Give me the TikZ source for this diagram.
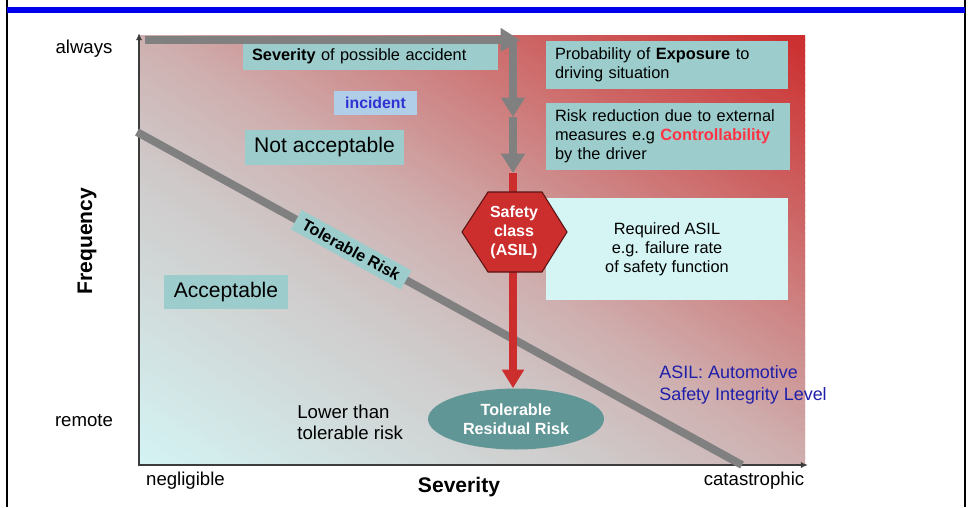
\documentclass[tikz,border=0pt]{standalone}
\usepackage{fontspec}
\setmainfont{Liberation Sans}
\usetikzlibrary{arrows.meta,shapes.geometric}

\definecolor{arrowgray}{RGB}{128,128,128}
\definecolor{riskred}{RGB}{204,45,45}
\definecolor{safecyan}{RGB}{212,244,244}
\definecolor{midgray}{RGB}{207,202,202}
\definecolor{midpink}{RGB}{207,176,176}
\definecolor{boxteal}{RGB}{156,205,204}
\definecolor{incifill}{RGB}{176,206,232}
\definecolor{incitext}{RGB}{50,50,210}
\definecolor{reqcyan}{RGB}{213,245,245}
\definecolor{residteal}{RGB}{97,150,150}
\definecolor{ctrlred}{RGB}{255,51,68}
\definecolor{notenavy}{RGB}{30,30,170}
\definecolor{barblue}{RGB}{0,0,238}
\definecolor{axisgray}{RGB}{60,60,60}
\definecolor{hexborder}{RGB}{90,20,20}

\begin{document}
\begin{tikzpicture}[x=0.02cm, y=-0.02cm,
    tealbox/.style = {fill=boxteal, inner ysep=0pt, font=\fontsize{9.3}{10.8}\selectfont},
    bigbox/.style = {fill=boxteal, inner sep=0pt, font=\fontsize{12}{14}\selectfont},
    tolbox/.style = {fill=boxteal, inner xsep=0.16cm, inner ysep=0pt, minimum height=0.44cm, font=\bfseries\fontsize{9.2}{10}\selectfont},
    ticklabel/.style = {font=\fontsize{10.6}{12.5}\selectfont},
    axislabel/.style = {font=\bfseries\fontsize{12}{14}\selectfont},
    grayarrow/.style = {draw=arrowgray, line width=4pt, -{Triangle[length=11pt,width=13pt]}},
    redarrow/.style = {draw=riskred, line width=4.3pt, -{Triangle[length=10.5pt,width=12pt]}},
    axisline/.style = {draw=axisgray, line width=1pt, -{Latex[length=4pt,width=3.5pt]}}]
    \useasboundingbox (0,0) rectangle (969,507);
    \draw[black, line width=1.4pt] (7,0) -- (7,507);
    \draw[black, line width=1.4pt] (965,0) -- (965,507);
    \fill[barblue] (7,7) rectangle (965,13);

    % risk field: cyan (bottom left) -> gray -> red (top right)
    \begin{scope}
      \clip (139,35) rectangle (805,465);
      \foreach \i in {0,...,149} {
        \pgfmathsetmacro{\ta}{\i/150}
        \pgfmathsetmacro{\tb}{(\i+1.6)/150}
        \pgfmathsetmacro{\tm}{(\i+0.5)/150}
        \pgfmathtruncatemacro{\seg}{\tm<0.35 ? 0 : (\tm<0.5 ? 1 : 2)}
        \ifcase\seg
          \pgfmathtruncatemacro{\p}{100*(1-\tm/0.35)}\colorlet{stripcol}{safecyan!\p!midgray}
        \or
          \pgfmathtruncatemacro{\p}{100*(1-(\tm-0.35)/0.15)}\colorlet{stripcol}{midgray!\p!midpink}
        \else
          \pgfmathtruncatemacro{\p}{100*(1-(\tm-0.5)/0.5)}\colorlet{stripcol}{midpink!\p!riskred}
        \fi
        \fill[stripcol] ({139+666*\ta-666},{465-430*\ta-430}) -- ({139+666*\ta+666},{465-430*\ta+430})
          -- ({139+666*\tb+666},{465-430*\tb+430}) -- ({139+666*\tb-666},{465-430*\tb-430}) -- cycle;
      }
    \end{scope}
    \draw[axisline] (139,466) -- (139,33);
    \draw[axisline] (138,465) -- (808,465);

    \draw[draw=arrowgray, line width=4.5pt] (137,132) -- (742,465)
        node[pos=0.354, sloped, tolbox] (tolrisk) {Tolerable Risk};

    \node[tealbox, text width=4.74cm, inner xsep=0.18cm, minimum height=0.54cm, align=left] (sevbox) at (370.5,56.5) {\textbf{Severity} of possible accident};
    \node[fill=incifill, inner sep=0pt, minimum width=1.66cm, minimum height=0.48cm, text=incitext, font=\bfseries\fontsize{9}{10}\selectfont] (incident) at (375.5,103) {incident};
    \node[bigbox, minimum width=3.18cm, minimum height=0.7cm] (notacc) at (324.5,147.5) {Not acceptable};
    \node[bigbox, minimum width=2.48cm, minimum height=0.68cm] (acc) at (226,292) {Acceptable};
    \node[tealbox, text width=4.48cm, inner xsep=0.18cm, minimum height=0.96cm, align=left] (expo) at (667,65) {Probability of \textbf{Exposure} to\\driving situation};
    \node[tealbox, text width=4.52cm, inner xsep=0.18cm, minimum height=1.34cm, align=left] (ctrl) at (668,136.5) {Risk reduction due to external\\measures e.g \textcolor{ctrlred}{\textbf{Controllability}}\\by the driver};
    \node[fill=reqcyan, inner sep=0pt, minimum width=4.84cm, minimum height=2.04cm, align=center, font=\fontsize{9.3}{10.8}\selectfont] (req) at (667,249) {Required ASIL\\e.g. failure rate\\of safety function};

    \node[ellipse, fill=residteal, inner sep=0pt, minimum width=3.52cm, minimum height=1.22cm, text=white, align=center, font=\bfseries\fontsize{9.2}{10.8}\selectfont] (residual) at (516,419) {Tolerable\\Residual Risk};
    \node[anchor=west, align=left, inner sep=0pt, font=\fontsize{10.6}{12}\selectfont] (lower) at (297,422.5) {Lower than\\tolerable risk};
    \node[anchor=west, align=left, inner sep=0pt, text=notenavy, font=\fontsize{10.2}{12.5}\selectfont] (note) at (659,385) {ASIL: Automotive\\Safety Integrity Level};

    \coordinate (sevstart) at (145,40);
    \coordinate (sevend) at (520,40);
    \coordinate (turn) at (513,43);
    \coordinate (expostep) at (513,117);
    \coordinate (ctrlstep) at (513,173);
    \draw[grayarrow] (sevstart) -- (sevend);
    \draw[grayarrow] (turn) -- (expostep);
    \draw[grayarrow] (expostep) -- (ctrlstep);
    \draw[redarrow] (ctrlstep) -- (ctrlstep |- residual.north);

    \draw[fill=riskred, draw=hexborder, line width=0.6pt] (462,232) -- (488,192) -- (542,192) -- (567,232) -- (542,272) -- (488,272) -- cycle;
    \node[text=white, align=center, font=\bfseries\fontsize{9.1}{10.8}\selectfont] (asil) at (514,232) {Safety\\class\\(ASIL)};

    \node[ticklabel] (always) at (84,49) {always};
    \node[ticklabel] (remote) at (84,421) {remote};
    \node[ticklabel] (negl) at (185.5,480.5) {negligible};
    \node[ticklabel] (cata) at (754,481) {catastrophic};
    \node[axislabel, rotate=90] (freq) at (87,241) {Frequency};
    \node[axislabel] (sev) at (459,487) {Severity};
\end{tikzpicture}
\end{document}
